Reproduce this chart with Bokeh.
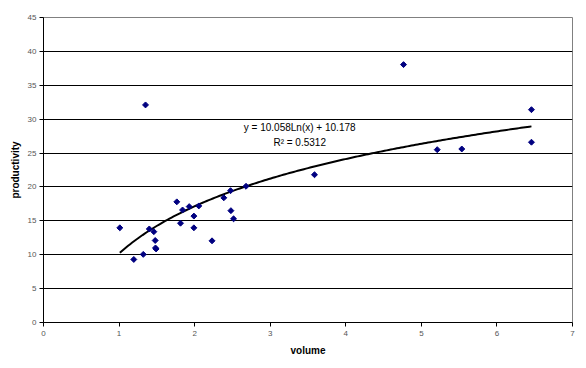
import numpy as np
from bokeh.plotting import figure
from bokeh.models import FixedTicker, ColumnDataSource, Label
from bokeh.embed import file_html
from bokeh.resources import INLINE

# data
volume = [1.01, 1.195, 1.32, 1.35, 1.40, 1.46, 1.478, 1.482, 1.49,
          1.764, 1.813, 1.84, 1.928, 1.99, 1.99, 2.055, 2.23,
          2.386, 2.475, 2.48, 2.515, 2.68, 3.586, 4.764, 5.21, 5.535,
          6.457, 6.457]
productivity = [13.97, 9.3, 10.05, 32.1, 13.8, 13.4, 12.1, 11.0, 10.85,
                17.8, 14.65, 16.6, 17.1, 15.7, 13.97, 17.2, 12.05,
                18.4, 19.45, 16.5, 15.3, 20.1, 21.8, 38.05, 25.5, 25.6,
                31.4, 26.6]

# trendline coefficients as displayed on the chart
coef_a = 10.058
coef_b = 10.178
r_squared = "0.5312"

x_ticks = [0, 1, 2, 3, 4, 5, 6, 7]
y_ticks = [0, 5, 10, 15, 20, 25, 30, 35, 40, 45]

p = figure(width=577, height=359, output_backend="svg", toolbar_location=None,
           x_range=(0, 7), y_range=(0, 45),
           min_border_left=43, min_border_right=5, min_border_top=17, min_border_bottom=37)
p.background_fill_color = "white"
p.border_fill_color = "white"
p.outline_line_color = "#808080"
p.outline_line_width = 1

font = "Liberation Sans"
for ax in (p.xaxis, p.yaxis):
    ax.axis_line_color = "black"
    ax.major_tick_line_color = "black"
    ax.major_tick_in = 0
    ax.major_tick_out = 4
    ax.minor_tick_line_color = None
    ax.major_label_text_font = font
    ax.major_label_text_font_size = "8px"
    ax.major_label_text_color = "#555555"
    ax.axis_label_text_font = font
    ax.axis_label_text_font_size = "10px"
    ax.axis_label_text_font_style = "bold"
    ax.axis_label_text_color = "black"
p.xaxis.ticker = FixedTicker(ticks=x_ticks)
p.yaxis.ticker = FixedTicker(ticks=y_ticks)
p.xaxis.axis_label = "volume"
p.yaxis.axis_label = "productivity"
p.xaxis.major_label_standoff = 4
p.yaxis.major_label_standoff = 3
p.xaxis.axis_label_standoff = 6
p.yaxis.axis_label_standoff = 4

p.xgrid.grid_line_color = None
p.ygrid.ticker = FixedTicker(ticks=y_ticks[1:-1])
p.ygrid.grid_line_color = "black"
p.ygrid.grid_line_width = 1

# trendline from displayed equation
xs = np.linspace(min(volume), max(volume), 200)
ys = coef_a * np.log(xs) + coef_b
p.line(xs, ys, line_color="black", line_width=2)

src = ColumnDataSource(dict(x=volume, y=productivity))
p.scatter("x", "y", source=src, marker="square", angle=np.pi / 4, size=4.2,
          fill_color="#000080", line_color="#000080", line_width=1)

eq1 = Label(x=3.39, y=28.7, text=f"y = {coef_a}Ln(x) + {coef_b}", text_align="center",
            text_baseline="middle", text_font=font, text_font_size="10px", text_color="black")
eq2 = Label(x=3.39, y=26.5, text=f"R² = {r_squared}", text_align="center",
            text_baseline="middle", text_font=font, text_font_size="10px", text_color="black")
p.add_layout(eq1)
p.add_layout(eq2)

open("out.html", "w").write(file_html(p, INLINE))
